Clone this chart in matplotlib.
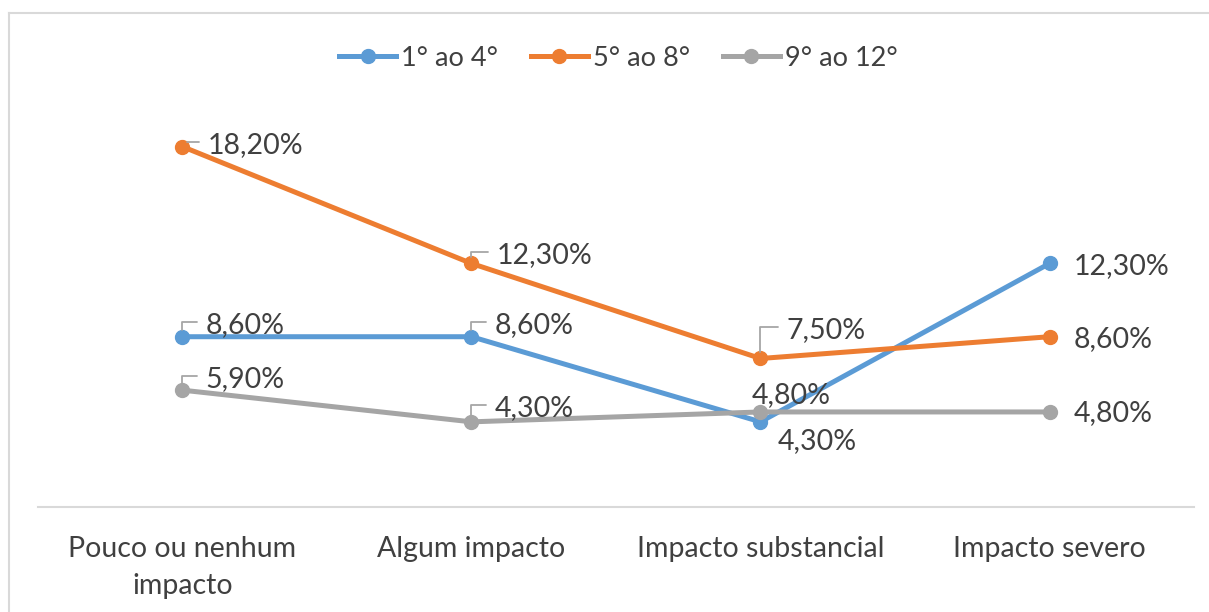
import numpy as np
import matplotlib
matplotlib.use("Agg")
import matplotlib.pyplot as plt
from matplotlib.lines import Line2D

plt.rcParams['font.family'] = ['Lato', 'DejaVu Sans']

categorias = ['Pouco ou nenhum\nimpacto', 'Algum impacto', 'Impacto substancial', 'Impacto severo']
series_nomes = ['1° ao 4°', '5° ao 8°', '9° ao 12°']
serie_1a4 = [8.6, 8.6, 4.3, 12.3]
serie_5a8 = [18.2, 12.3, 7.5, 8.6]
serie_9a12 = [5.9, 4.3, 4.8, 4.8]

cores = ['#5B9BD5', '#ED7D31', '#A5A5A5']
cor_texto = '#404040'
cor_guia = '#A6A6A6'

# deslocamento (px) do rótulo e se tem linha guia, por série e categoria
rotulos_pos = [
    [(23, 12, True), (23, 12, True), (17, -19, False), (24, -3, False)],
    [(25, 2, True), (25, 8, True), (26, 28, True), (24, -2, False)],
    [(23, 11, True), (23, 14, True), (-9, 17, False), (24, -1, False)],
]

fig = plt.figure(figsize=(12.09, 6.12), dpi=100)
ax = fig.add_axes([0.0314, 0.1716, 0.9562, 0.647])

x = np.arange(len(categorias))
dados = [serie_1a4, serie_5a8, serie_9a12]

for serie, cor, nome in zip(dados, cores, series_nomes):
    ax.plot(x, serie, color=cor, lw=3.6, marker='o', ms=10, label=nome,
            solid_capstyle='round', zorder=3)

for s, (serie, pos) in enumerate(zip(dados, rotulos_pos)):
    for i, v in enumerate(serie):
        dx, dy, guia = pos[i]
        txt = f'{v:.2f}%'.replace('.', ',')
        props = None
        if guia:
            props = dict(arrowstyle='-', color=cor_guia, lw=1.3,
                         connectionstyle='angle,angleA=0,angleB=90,rad=0',
                         relpos=(0, 0.62), shrinkA=4, shrinkB=5)
        ax.annotate(txt, xy=(i, v), xytext=(dx, dy), textcoords='offset pixels',
                    ha='left', va='center', fontsize=20.5, color=cor_texto,
                    arrowprops=props, zorder=4)

ax.set_xlim(-0.5, 3.5)
ax.set_ylim(0, 20)
ax.set_xticks(x)
ax.set_xticklabels(categorias, fontsize=20.5, color=cor_texto, linespacing=1.5,
                   va='top')
ax.tick_params(axis='x', length=0, pad=21)
ax.set_yticks([])
for lado in ['top', 'right', 'left']:
    ax.spines[lado].set_visible(False)
ax.spines['bottom'].set_color('#D9D9D9')
ax.spines['bottom'].set_linewidth(1.5)

handles = [Line2D([0], [0], color=c, lw=3.6, marker='o', ms=10) for c in cores]
fig.legend(handles, series_nomes, loc='center', bbox_to_anchor=(0.5116, 0.905),
           ncol=3, frameon=False, fontsize=19.5, labelcolor=cor_texto,
           handlelength=2.1, handletextpad=0.2, columnspacing=1.2)

# moldura do gráfico
borda = dict(color='#D9D9D9', lw=1.5, transform=fig.transFigure)
fig.add_artist(Line2D([8.5 / 1209, 1], [1 - 13 / 612, 1 - 13 / 612], **borda))
fig.add_artist(Line2D([8.5 / 1209, 8.5 / 1209], [0, 1 - 13 / 612], **borda))

fig.savefig('out.png', dpi=100)
